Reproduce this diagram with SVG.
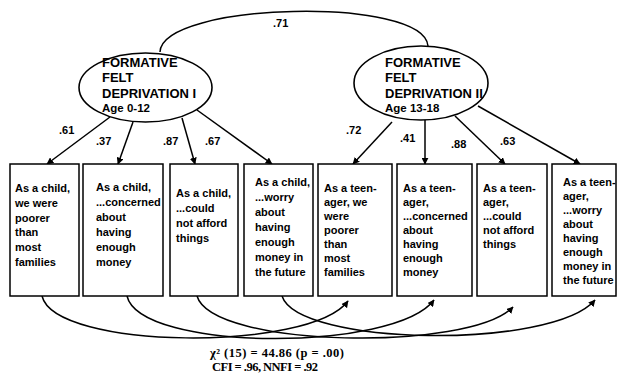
<svg xmlns="http://www.w3.org/2000/svg" width="617" height="387" viewBox="0 0 617 387">
  <style>
    .lat { fill: #fff; stroke: #000; stroke-width: 1.6; }
    .box { fill: #fff; stroke: #000; stroke-width: 1.5; }
    .ln { fill: none; stroke: #000; stroke-width: 1.5; }
    .lt { font-family: "Liberation Sans", Arial, sans-serif; font-weight: bold; font-size: 13px; fill: #000; }
    .age { font-family: "Liberation Sans", Arial, sans-serif; font-weight: bold; font-size: 11.5px; fill: #000; }
    .bt { font-family: "Liberation Sans", Arial, sans-serif; font-weight: bold; font-size: 11px; fill: #000; }
    .coef { font-family: "Liberation Sans", Arial, sans-serif; font-weight: bold; font-size: 11px; fill: #000; }
    .fit { font-family: "Liberation Serif", "Times New Roman", serif; font-weight: bold; font-size: 12.5px; fill: #000; }
  </style>
  <defs>
    <marker id="arr" viewBox="0 0 10 10" refX="9" refY="5" markerWidth="7" markerHeight="7" markerUnits="userSpaceOnUse" orient="auto">
      <path d="M0,0 L10,5 L0,10 z" fill="#000"/>
    </marker>
  </defs>

  <rect width="617" height="387" fill="#fff"/>

  <!-- connectors -->
  <g id="connectors">
    <!-- correlation between the two latent factors -->
    <path class="ln" d="M160,52 C162,2 424,-4 428,46"/>
    <!-- loadings, factor I -->
    <path class="ln" d="M110,117 L47,164" marker-end="url(#arr)"/>
    <path class="ln" d="M133,122 L118,164" marker-end="url(#arr)"/>
    <path class="ln" d="M182,118 L195,164" marker-end="url(#arr)"/>
    <path class="ln" d="M197,110 L272,164" marker-end="url(#arr)"/>
    <!-- loadings, factor II -->
    <path class="ln" d="M392,122 L353,164" marker-end="url(#arr)"/>
    <path class="ln" d="M425,120 L425,164" marker-end="url(#arr)"/>
    <path class="ln" d="M455,116 L505,164" marker-end="url(#arr)"/>
    <path class="ln" d="M478,106 L580,164" marker-end="url(#arr)"/>
    <!-- correlated residuals between matching items -->
    <path class="ln" d="M42,296 C55,350 310,352 348,301" marker-end="url(#arr)"/>
    <path class="ln" d="M127,296 C140,352 395,352 434,300" marker-end="url(#arr)"/>
    <path class="ln" d="M197,296 C212,348 470,352 513,307" marker-end="url(#arr)"/>
    <path class="ln" d="M282,296 C298,346 552,350 595,300" marker-end="url(#arr)"/>
  </g>

  <!-- coefficient labels -->
  <g id="coefficients">
    <text class="coef" x="273" y="27">.71</text>
    <text class="coef" x="59" y="134">.61</text>
    <text class="coef" x="96" y="145">.37</text>
    <text class="coef" x="163" y="145">.87</text>
    <text class="coef" x="205" y="145">.67</text>
    <text class="coef" x="346" y="134">.72</text>
    <text class="coef" x="400" y="142">.41</text>
    <text class="coef" x="451" y="148">.88</text>
    <text class="coef" x="500" y="145">.63</text>
  </g>

  <!-- latent factors -->
  <g id="factor1">
    <ellipse class="lat" cx="145.5" cy="87.5" rx="66.5" ry="34.5"/>
    <text class="lt" x="102" y="67">FORMATIVE</text>
    <text class="lt" x="102" y="82">FELT</text>
    <text class="lt" x="102" y="98">DEPRIVATION I</text>
    <text class="age" x="102" y="112">Age 0-12</text>
  </g>
  <g id="factor2">
    <ellipse class="lat" cx="421" cy="83" rx="67" ry="37"/>
    <text class="lt" x="385" y="67">FORMATIVE</text>
    <text class="lt" x="385" y="82">FELT</text>
    <text class="lt" x="385" y="98">DEPRIVATION II</text>
    <text class="age" x="385" y="112">Age 13-18</text>
  </g>

  <!-- observed items, childhood -->
  <g id="item1">
    <rect class="box" x="10" y="164" width="69" height="132"/>
    <text class="bt" x="15" y="192">As a child,</text>
    <text class="bt" x="15" y="207">we were</text>
    <text class="bt" x="15" y="222">poorer</text>
    <text class="bt" x="15" y="236">than</text>
    <text class="bt" x="15" y="251">most</text>
    <text class="bt" x="15" y="266">families</text>
  </g>
  <g id="item2">
    <rect class="box" x="83" y="164" width="80" height="132"/>
    <text class="bt" x="96" y="191">As a child,</text>
    <text class="bt" x="96" y="206">...concerned</text>
    <text class="bt" x="96" y="221">about</text>
    <text class="bt" x="96" y="236">having</text>
    <text class="bt" x="96" y="251">enough</text>
    <text class="bt" x="96" y="266">money</text>
  </g>
  <g id="item3">
    <rect class="box" x="170" y="164" width="68" height="132"/>
    <text class="bt" x="176" y="197">As a child,</text>
    <text class="bt" x="176" y="212">...could</text>
    <text class="bt" x="176" y="227">not afford</text>
    <text class="bt" x="176" y="242">things</text>
  </g>
  <g id="item4">
    <rect class="box" x="244" y="164" width="69" height="132"/>
    <text class="bt" x="255" y="186">As a child,</text>
    <text class="bt" x="255" y="201">...worry</text>
    <text class="bt" x="255" y="216">about</text>
    <text class="bt" x="255" y="231">having</text>
    <text class="bt" x="255" y="246">enough</text>
    <text class="bt" x="255" y="261">money in</text>
    <text class="bt" x="255" y="276">the future</text>
  </g>

  <!-- observed items, adolescence -->
  <g id="item5">
    <rect class="box" x="318" y="164" width="74" height="132"/>
    <text class="bt" x="324" y="192">As a teen-</text>
    <text class="bt" x="324" y="206">ager, we</text>
    <text class="bt" x="324" y="220">were</text>
    <text class="bt" x="324" y="234">poorer</text>
    <text class="bt" x="324" y="248">than</text>
    <text class="bt" x="324" y="262">most</text>
    <text class="bt" x="324" y="276">families</text>
  </g>
  <g id="item6">
    <rect class="box" x="397" y="164" width="75" height="132"/>
    <text class="bt" x="403" y="192">As a teen-</text>
    <text class="bt" x="403" y="206">ager,</text>
    <text class="bt" x="403" y="220">...concerned</text>
    <text class="bt" x="403" y="234">about</text>
    <text class="bt" x="403" y="248">having</text>
    <text class="bt" x="403" y="262">enough</text>
    <text class="bt" x="403" y="276">money</text>
  </g>
  <g id="item7">
    <rect class="box" x="477" y="164" width="70" height="132"/>
    <text class="bt" x="483" y="192">As a teen-</text>
    <text class="bt" x="483" y="206">ager,</text>
    <text class="bt" x="483" y="220">...could</text>
    <text class="bt" x="483" y="234">not afford</text>
    <text class="bt" x="483" y="248">things</text>
  </g>
  <g id="item8">
    <rect class="box" x="552" y="164" width="64" height="132"/>
    <text class="bt" x="563" y="186">As a teen-</text>
    <text class="bt" x="563" y="200">ager,</text>
    <text class="bt" x="563" y="214">...worry</text>
    <text class="bt" x="563" y="228">about</text>
    <text class="bt" x="563" y="242">having</text>
    <text class="bt" x="563" y="256">enough</text>
    <text class="bt" x="563" y="270">money in</text>
    <text class="bt" x="563" y="284">the future</text>
  </g>

  <!-- model fit -->
  <g id="fit">
    <text class="fit" x="210" y="357" textLength="134" lengthAdjust="spacing">χ² (15) = 44.86 (p = .00)</text>
    <text class="fit" x="212" y="371" textLength="106" lengthAdjust="spacing">CFI = .96, NNFI = .92</text>
  </g>
</svg>
